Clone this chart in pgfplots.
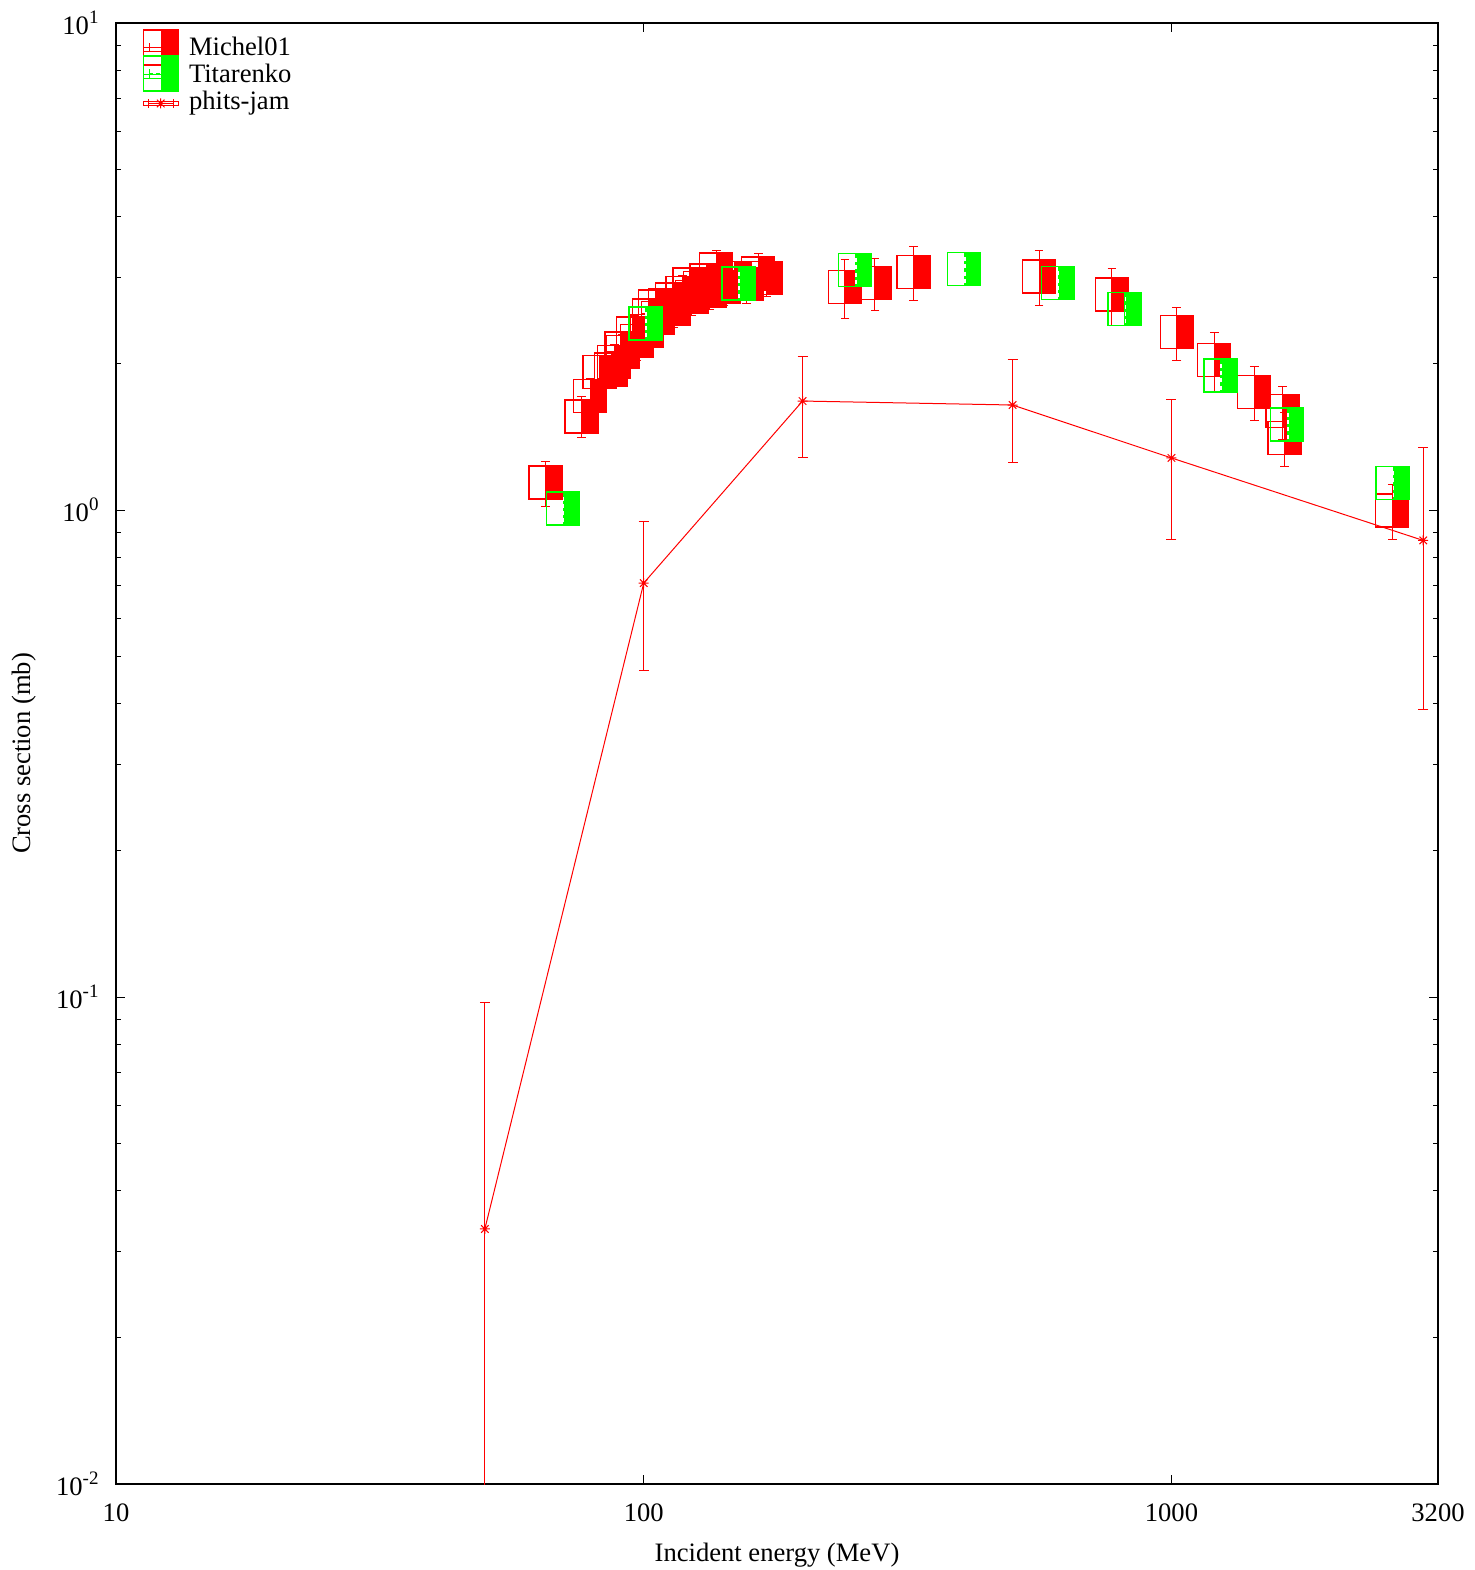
\documentclass[border=0pt]{standalone}
\usepackage{fontspec}
\setmainfont{Liberation Serif}
\usepackage{pgfplots}
\pgfplotsset{compat=1.18}
\usepackage{pgfplotstable}

\definecolor{gred}{RGB}{255,0,0}
\definecolor{ggreen}{RGB}{0,255,0}

\pgfdeclareplotmark{halfbox}{%
  \pgfpathrectangle{\pgfqpoint{0pt}{-\pgfplotmarksize}}{\pgfqpoint{\pgfplotmarksize}{2\pgfplotmarksize}}%
  \pgfusepathqfill
  \pgfpathrectangle{\pgfqpoint{-\pgfplotmarksize}{-\pgfplotmarksize}}{\pgfqpoint{2\pgfplotmarksize}{2\pgfplotmarksize}}%
  \pgfusepathqstroke
}
\pgfdeclareplotmark{halfboxd}{%
  \pgfpathrectangle{\pgfqpoint{0pt}{-\pgfplotmarksize}}{\pgfqpoint{\pgfplotmarksize}{2\pgfplotmarksize}}%
  \pgfusepathqfill
  \pgfpathrectangle{\pgfqpoint{-\pgfplotmarksize}{-\pgfplotmarksize}}{\pgfqpoint{2\pgfplotmarksize}{2\pgfplotmarksize}}%
  \pgfusepathqstroke
  \pgfscope
  \pgfsetstrokecolor{white}%
  \pgfsetlinewidth{0.7pt}%
  \pgfsetdash{{2pt}{1.6pt}}{0pt}%
  \pgfpathmoveto{\pgfqpoint{0.4pt}{-0.85\pgfplotmarksize}}%
  \pgfpathlineto{\pgfqpoint{0.4pt}{0.85\pgfplotmarksize}}%
  \pgfusepathqstroke
  \endpgfscope
}
\pgfdeclareplotmark{gstar}{%
  \pgfpathmoveto{\pgfqpoint{-\pgfplotmarksize}{0pt}}\pgfpathlineto{\pgfqpoint{\pgfplotmarksize}{0pt}}%
  \pgfpathmoveto{\pgfqpoint{0pt}{-\pgfplotmarksize}}\pgfpathlineto{\pgfqpoint{0pt}{\pgfplotmarksize}}%
  \pgfpathmoveto{\pgfqpoint{-0.75\pgfplotmarksize}{-0.75\pgfplotmarksize}}\pgfpathlineto{\pgfqpoint{0.75\pgfplotmarksize}{0.75\pgfplotmarksize}}%
  \pgfpathmoveto{\pgfqpoint{-0.75\pgfplotmarksize}{0.75\pgfplotmarksize}}\pgfpathlineto{\pgfqpoint{0.75\pgfplotmarksize}{-0.75\pgfplotmarksize}}%
  \pgfusepathqstroke
}

\pgfplotstableread{
E s e
65.1 1.138 0.120
76.2 1.557 0.150
79.2 1.716 0.150
82.5 1.920 0.160
86.8 1.943 0.170
87.9 2.013 0.170
90.7 2.146 0.180
91.3 2.111 0.180
95.5 2.304 0.200
97.0 2.223 0.200
101.3 2.331 0.200
102.4 2.508 0.210
105.1 2.617 0.220
106.5 2.479 0.210
109.6 2.636 0.220
113.2 2.705 0.230
114.0 2.586 0.220
118.5 2.790 0.240
122.0 2.904 0.240
123.3 2.738 0.230
127.7 2.857 0.240
131.4 2.960 0.250
133.4 2.817 0.240
137.2 3.117 0.290
141.8 2.870 0.240
148.7 2.995 0.250
156.7 2.911 0.250
164.8 3.059 0.300
170.6 2.995 0.250
240.6 2.874 0.400
274.3 2.927 0.360
324.7 3.078 0.390
561.2 3.019 0.390
771.6 2.768 0.370
1024 2.318 0.290
1205 2.035 0.280
1435 1.747 0.220
1623 1.596 0.200
1637 1.407 0.180
2620 0.998 0.130
}\michel

\pgfplotstableread{
E s
70.3 1.008
100.7 2.417
151.1 2.918
251.5 3.114
404.6 3.128
609.5 2.925
814.7 2.587
1238 1.889
1656 1.498
2625 1.137
}\titarenko

\pgfplotstableread{
E s ep em
50 0.0334 0.0639 0.0330
100 0.708 0.240 0.240
200 1.674 0.390 0.390
500 1.643 0.390 0.390
1000 1.279 0.410 0.410
3000 0.866 0.477 0.477
}\phits

\newcommand{\sfont}{\fontsize{13.3}{16}\selectfont}
\newcommand{\tsup}[1]{\raisebox{5.5pt}{\fontsize{9.5}{11}\selectfont #1}}

\begin{document}
\begin{tikzpicture}
\begin{axis}[
  name=ax,
  xmode=log, ymode=log,
  scale only axis, width=661pt, height=730.5pt,
  xmin=10, xmax=3200, ymin=0.01, ymax=10,
  axis line style={line width=1pt},
  tick style={line width=0.5pt, black},
  major tick length=4.5pt, minor tick length=2.5pt,
  tick align=inside,
  xtick={10,100,1000,3200},
  xticklabels={10,100,1000,3200},
  xminorticks=false,
  ytick={0.01,0.1,1,10},
  yticklabels={10\tsup{-2},10\tsup{-1},10\tsup{0},10\tsup{1}},
  minor ytick={0.02,0.03,0.04,0.05,0.06,0.07,0.08,0.09,0.2,0.3,0.4,0.5,0.6,0.7,0.8,0.9,2,3,4,5,6,7,8,9},
  tick label style={font=\sfont},
  xticklabel style={anchor=center, yshift=-14.5pt},
  yticklabel style={anchor=east, xshift=-5.2pt},
  label style={font=\sfont},
  xlabel={Incident energy (MeV)},
  ylabel={Cross section (mb)},
  xlabel style={at={(axis description cs:0.5,-0.0485)}, anchor=center},
  ylabel style={at={(axis description cs:-0.0695,0.5)}, anchor=center},
  legend style={at={(axis description cs:0,1)}, anchor=north west, xshift=13.5pt, yshift=-6.5pt,
    draw=none, fill=none, inner sep=0pt, outer sep=0pt, row sep=0pt, font=\sfont,
    nodes={inner sep=0pt, text height=10pt, text depth=3.5pt},
    /tikz/every odd column/.append style={column sep=5pt}},
  legend cell align=left,
]
\addplot[gred, only marks, mark=halfbox, mark size=8.25pt, mark options={line width=0.7pt},
  legend image code/.code={%
    \begin{scope}[overlay, yshift=1pt]
      \draw[line width=0.5pt] (2.75pt,0pt) -- (14.75pt,0pt);
      \draw[line width=0.5pt] (2.75pt,-2.2pt) -- (2.75pt,2.2pt);
      \fill (8.75pt,-8.75pt) rectangle (17.5pt,8.75pt);
      \draw[line width=0.7pt] (0pt,-8.75pt) rectangle (17.5pt,8.75pt);
    \end{scope}
    \path (0pt,-1pt) rectangle (17.5pt,1pt);},
  error bars/.cd, y dir=both, y explicit,
  error bar style={line width=0.5pt},
  error mark options={rotate=90, mark size=2.2pt, line width=0.5pt}]
  table[x=E, y=s, y error=e] {\michel};
\addlegendentry{Michel01}
\addplot[ggreen, only marks, mark=halfboxd, mark size=8.25pt, mark options={line width=0.7pt},
  legend image code/.code={%
    \begin{scope}[overlay, yshift=1.5pt]
      \draw[line width=0.5pt, dash pattern=on 2pt off 1.5pt] (2.75pt,0pt) -- (14.75pt,0pt);
      \draw[line width=0.5pt] (2.75pt,-2.2pt) -- (2.75pt,2.2pt);
      \fill (8.75pt,-8.75pt) rectangle (17.5pt,8.75pt);
      \draw[line width=0.7pt] (0pt,-8.75pt) rectangle (17.5pt,8.75pt);
    \end{scope}
    \path (0pt,-1pt) rectangle (17.5pt,1pt);}]
  table[x=E, y=s] {\titarenko};
\addlegendentry{Titarenko}
\addplot[gred, line width=0.5pt, mark=gstar, mark size=2.5pt,
  legend image code/.code={%
    \begin{scope}[overlay]
      \draw[line width=0.5pt] (2.5pt,0pt) -- (14.75pt,0pt);
      \draw[line width=0.5pt] (2.5pt,-2.2pt) -- (2.5pt,2.2pt);
      \draw[line width=0.5pt] (14.75pt,-2.2pt) -- (14.75pt,2.2pt);
      \draw[line width=0.5pt] (6.1pt,0pt) -- (11.1pt,0pt) (8.6pt,-2.5pt) -- (8.6pt,2.5pt)
        (6.7pt,-1.9pt) -- (10.5pt,1.9pt) (6.7pt,1.9pt) -- (10.5pt,-1.9pt);
    \end{scope}
    \path (0pt,-1pt) rectangle (17.5pt,1pt);},
  error bars/.cd, y dir=both, y explicit,
  error bar style={line width=0.5pt},
  error mark options={rotate=90, mark size=2.5pt, line width=0.5pt}]
  table[x=E, y=s, y error plus=ep, y error minus=em] {\phits};
\addlegendentry{phits-jam}
\end{axis}
\pgfresetboundingbox
\path[use as bounding box] (ax.south west) ++(-58pt,-43pt) rectangle ++(737pt,785pt);
\end{tikzpicture}
\end{document}
